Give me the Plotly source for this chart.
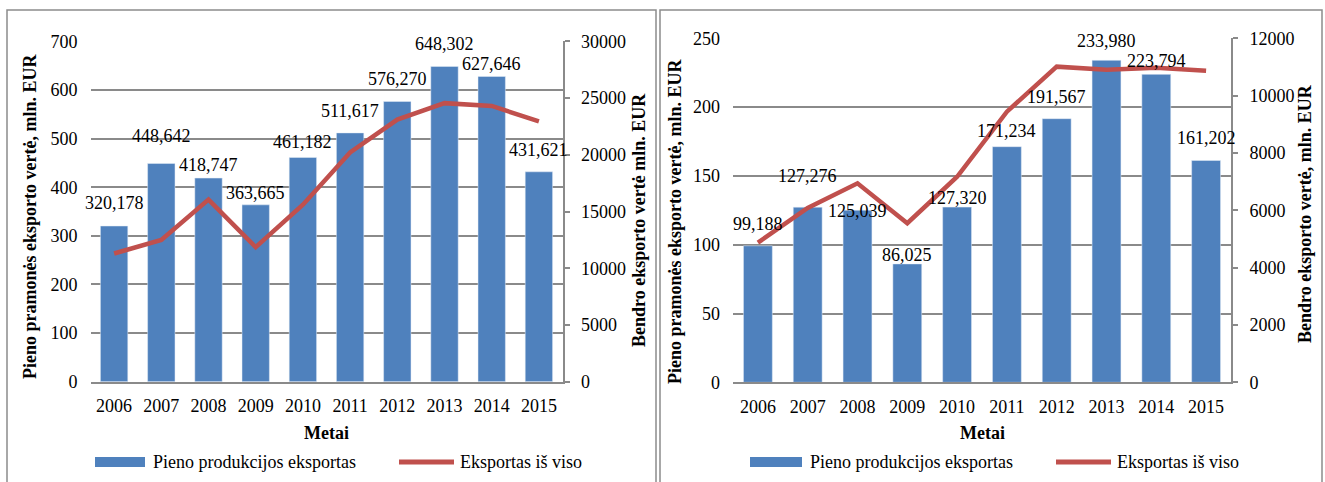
import plotly.graph_objects as go

# data
years = ["2006", "2007", "2008", "2009", "2010", "2011", "2012", "2013", "2014", "2015"]

dairy_left = [320.178, 448.642, 418.747, 363.665, 461.182, 511.617, 576.270, 648.302, 627.646, 431.621]
total_left = [11300, 12500, 16050, 11850, 15600, 20200, 23100, 24550, 24300, 22950]

dairy_right = [99.188, 127.276, 125.039, 86.025, 127.320, 171.234, 191.567, 233.980, 223.794, 161.202]
total_right = [4870, 6080, 6940, 5550, 7170, 9440, 11010, 10900, 10975, 10870]

bar_name = "Pieno produkcijos eksportas"
line_name = "Eksportas iš viso"
x_title = "Metai"
y_title = "Pieno pramonės eksporto vertė, mln. EUR"
y2_title_left = "Bendro eksporto vertė mln. EUR"
y2_title_right = "Bendro eksporto vertė, mln. EUR"

# style
W, H = 1325, 482
FONT = "Liberation Serif"
BLUE = "#4F81BD"
RED = "#C0504D"
GRID = "#8a8a8a"
FS = 18

# vertical offsets (px) of the value labels above the bar tops
lift_left = [23, 28, 13, 12, 15, 22, 22, 22, 12, 22]
lift_right = [22, 31, -1, 9, 9, 16, 22, 19, 13, 22]


def px(x):
    return x / W


def py(y):
    return 1 - y / H


fig = go.Figure()
annotations = []
shapes = []

panels = [
    dict(bars=dairy_left, line=total_left, lift=lift_left, xd=(90.5, 562.5), yd=(381.7, 41.3),
         yr=700, ydt=100, y2r=30000, y2dt=5000, y2t=y2_title_left,
         ytx=30, yty=217, y2tx=639, y2ty=220,
         leg=(95, 145, 151, 399, 454, 458), frame=(7, 656)),
    dict(bars=dairy_right, line=total_right, lift=lift_right, xd=(733, 1231), yd=(382.3, 38.3),
         yr=250, ydt=50, y2r=12000, y2dt=2000, y2t=y2_title_right,
         ytx=675, yty=222, y2tx=1305, y2ty=214,
         leg=(750, 802, 808, 1056, 1111, 1115), frame=(660, 1322)),
]

tfont = dict(size=FS, color="black", family=FONT)

layout_axes = {}
for i, p in enumerate(panels):
    xa = "x" if i == 0 else "x2"
    ya = "y" if i == 0 else "y3"
    y2a = "y2" if i == 0 else "y4"
    xkey = "xaxis" if i == 0 else "xaxis2"
    ykey = "yaxis" if i == 0 else "yaxis3"
    y2key = "yaxis2" if i == 0 else "yaxis4"

    fig.add_trace(go.Bar(
        x=years, y=p["bars"], name=bar_name, marker_color=BLUE,
        xaxis=xa, yaxis=ya, showlegend=False,
    ))
    fig.add_trace(go.Scatter(
        x=years, y=p["line"], name=line_name, mode="lines",
        line=dict(color=RED, width=4.5), xaxis=xa, yaxis=y2a, showlegend=False,
    ))

    xdom = [px(p["xd"][0]), px(p["xd"][1])]
    ydom = [py(p["yd"][0]), py(p["yd"][1])]

    layout_axes[xkey] = dict(
        domain=xdom, anchor=ya, type="category", range=[-0.5, len(years) - 0.5],
        showline=True, linecolor=GRID, linewidth=2, automargin=False,
        ticks="", tickfont=tfont, ticklabelstandoff=7,
    )
    layout_axes[ykey] = dict(
        domain=ydom, anchor=xa, range=[0, p["yr"]], dtick=p["ydt"],
        showgrid=True, gridcolor=GRID, gridwidth=1.8, zeroline=False, automargin=False,
        showline=False, ticks="", tickfont=tfont, ticklabelstandoff=12,
    )
    layout_axes[y2key] = dict(
        domain=ydom, anchor=xa, overlaying=ya, side="right",
        range=[0, p["y2r"]], dtick=p["y2dt"], tickformat="d", automargin=False,
        showgrid=False, zeroline=False, showline=True, linecolor=GRID, linewidth=2,
        ticks="outside", ticklen=5, tickcolor=GRID, tickwidth=1.5,
        tickfont=tfont, ticklabelstandoff=8,
    )

    # value labels
    for k, (v, dy) in enumerate(zip(p["bars"], p["lift"])):
        annotations.append(dict(
            x=k, y=v, xref=xa, yref=ya, text=f"{v:.3f}".replace(".", ","),
            showarrow=False, yshift=dy, xanchor="center", yanchor="middle", font=tfont,
        ))

    # axis titles
    annotations.append(dict(
        x=px(p["ytx"]), y=py(p["yty"]), xref="paper", yref="paper", text=f"<b>{y_title}</b>",
        textangle=-90, showarrow=False, xanchor="center", yanchor="middle", font=tfont,
    ))
    annotations.append(dict(
        x=px(p["y2tx"]), y=py(p["y2ty"]), xref="paper", yref="paper", text=f"<b>{p['y2t']}</b>",
        textangle=-90, showarrow=False, xanchor="center", yanchor="middle", font=tfont,
    ))
    annotations.append(dict(
        x=(xdom[0] + xdom[1]) / 2, y=py(433), xref="paper", yref="paper", text=f"<b>{x_title}</b>",
        showarrow=False, xanchor="center", yanchor="middle", font=tfont,
    ))

    # legend
    b0, b1, bt, l0, l1, lt = p["leg"]
    shapes.append(dict(type="rect", xref="paper", yref="paper", x0=px(b0), x1=px(b1),
                       y0=py(467), y1=py(457), fillcolor=BLUE, line=dict(width=0)))
    shapes.append(dict(type="line", xref="paper", yref="paper", x0=px(l0), x1=px(l1),
                       y0=py(462), y1=py(462), line=dict(color=RED, width=5)))
    annotations.append(dict(x=px(bt), y=py(462), xref="paper", yref="paper", text=bar_name,
                            xanchor="left", yanchor="middle", showarrow=False, font=tfont))
    annotations.append(dict(x=px(lt), y=py(462), xref="paper", yref="paper", text=line_name,
                            xanchor="left", yanchor="middle", showarrow=False, font=tfont))

    # panel frame
    f0, f1 = p["frame"]
    shapes.append(dict(type="rect", xref="paper", yref="paper", x0=px(f0), x1=px(f1),
                       y0=-0.1, y1=py(10), line=dict(color="#8c8c8c", width=1.5)))

fig.update_layout(
    width=W, height=H,
    margin=dict(l=0, r=0, t=0, b=0),
    paper_bgcolor="white", plot_bgcolor="white",
    font=dict(family=FONT, size=FS, color="black"),
    bargap=0.42,
    showlegend=False,
    annotations=annotations,
    shapes=shapes,
    **layout_axes,
)

fig.write_html(
    "out.html",
    config={"displayModeBar": False},
    post_script="document.body.style.margin='0';document.body.style.overflow='hidden';",
)
